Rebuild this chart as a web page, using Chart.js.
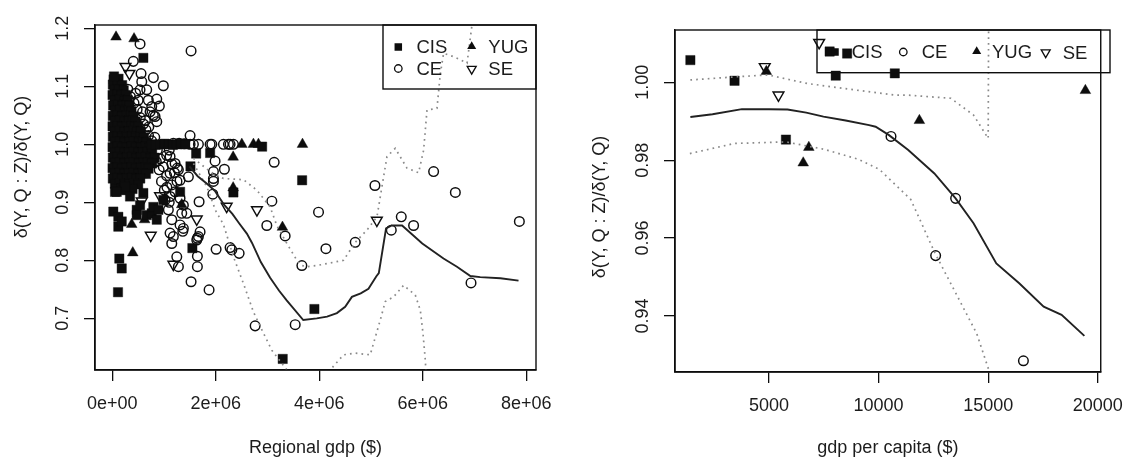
<!DOCTYPE html>
<html><head><meta charset="utf-8">
<script src="https://cdn.jsdelivr.net/npm/chart.js@4.4.1/dist/chart.umd.min.js"></script>
<style>
html,body{margin:0;padding:0;background:#fff;}
#wrap{position:relative;width:1135px;height:460px;overflow:hidden;background:#fff;}
canvas{position:absolute;top:0;}
</style></head><body>
<div id="wrap">
<canvas id="cL" width="567" height="460" style="left:0px"></canvas>
<canvas id="cR" width="568" height="460" style="left:567px"></canvas>
</div>
<script>
// ---------- tick labels ----------
const leftXTicks = [0, 2e6, 4e6, 6e6, 8e6];
const leftXLabels = ['0e+00', '2e+06', '4e+06', '6e+06', '8e+06'];
const leftYTicks = [0.7, 0.8, 0.9, 1.0, 1.1, 1.2];
const leftYLabels = ['0.7', '0.8', '0.9', '1.0', '1.1', '1.2'];
const rightXTicks = [5000, 10000, 15000, 20000];
const rightXLabels = ['5000', '10000', '15000', '20000'];
const rightYTicks = [0.94, 0.96, 0.98, 1.00];
const rightYLabels = ['0.94', '0.96', '0.98', '1.00'];
const seriesNames = ['CIS', 'CE', 'YUG', 'SE'];

// ---------- left panel: regional gdp ----------
const leftCIS = [
[25e3,1.112],[120e3,1.113],
[10e3,1.103],[100e3,1.104],[190e3,1.102],
[40e3,1.094],[130e3,1.095],[220e3,1.093],
[5e3,1.085],[95e3,1.086],[180e3,1.084],[260e3,1.085],
[45e3,1.076],[140e3,1.077],[230e3,1.075],[300e3,1.076],
[15e3,1.067],[105e3,1.068],[195e3,1.066],[280e3,1.067],[330e3,1.066],
[55e3,1.058],[150e3,1.059],[240e3,1.057],[320e3,1.058],[370e3,1.057],
[10e3,1.049],[100e3,1.050],[190e3,1.048],[280e3,1.049],[360e3,1.050],[410e3,1.048],
[50e3,1.040],[145e3,1.041],[235e3,1.039],[325e3,1.040],[400e3,1.041],[450e3,1.039],
[5e3,1.031],[95e3,1.032],[190e3,1.030],[280e3,1.031],[370e3,1.032],[440e3,1.030],[500e3,1.031],
[45e3,1.022],[140e3,1.023],[230e3,1.021],[320e3,1.022],[410e3,1.023],[480e3,1.021],[550e3,1.022],
[10e3,1.013],[100e3,1.014],[190e3,1.012],[285e3,1.013],[375e3,1.014],[460e3,1.012],[540e3,1.013],[610e3,1.012],
[50e3,1.004],[145e3,1.005],[235e3,1.003],[330e3,1.004],[420e3,1.005],[510e3,1.003],[590e3,1.004],[660e3,1.003],
[5e3,0.995],[95e3,0.996],[190e3,0.994],[280e3,0.995],[370e3,0.996],[460e3,0.994],[550e3,0.995],[640e3,0.996],[720e3,0.994],
[45e3,0.986],[140e3,0.987],[230e3,0.985],[320e3,0.986],[410e3,0.987],[500e3,0.985],[590e3,0.986],[680e3,0.987],[770e3,0.985],
[10e3,0.977],[100e3,0.978],[190e3,0.976],[285e3,0.977],[375e3,0.978],[465e3,0.976],[555e3,0.977],[645e3,0.978],[735e3,0.976],[820e3,0.977],
[50e3,0.968],[145e3,0.969],[235e3,0.967],[330e3,0.968],[420e3,0.969],[510e3,0.967],[600e3,0.968],[690e3,0.969],[770e3,0.967],
[5e3,0.959],[95e3,0.960],[190e3,0.958],[280e3,0.959],[370e3,0.960],[460e3,0.958],[550e3,0.959],[640e3,0.960],[700e3,0.958],
[45e3,0.950],[140e3,0.951],[230e3,0.949],[320e3,0.950],[410e3,0.951],[500e3,0.949],[590e3,0.950],[650e3,0.949],
[10e3,0.941],[100e3,0.942],[190e3,0.940],[285e3,0.941],[375e3,0.942],[465e3,0.940],[540e3,0.941],
[50e3,0.932],[145e3,0.933],[235e3,0.931],[330e3,0.932],[420e3,0.933],[500e3,0.931],
[70e3,0.923],[180e3,0.924],[280e3,0.922],[390e3,0.923],
[33e3,1.117],[600e3,1.149],[19e3,0.884],[116e3,0.875],[116e3,0.858],[182e3,0.867],[135e3,0.803],
[182e3,0.786],[110e3,0.745],[52e3,0.918],[213e3,0.921],[246e3,0.927],[85e3,0.918],[342e3,0.910],
[472e3,0.887],[472e3,0.878],[536e3,0.895],[600e3,0.916],[665e3,0.878],[762e3,0.881],[793e3,0.892],
[859e3,0.870],[890e3,0.887],[986e3,0.904],[1310e3,0.918],[1510e3,0.962],[1620e3,0.984],[1890e3,0.985],
[2340e3,0.917],[2895e3,0.996],[3668e3,0.938],[3905e3,0.716],[3293e3,0.630],[1547e3,0.821],
[760e3,1.0],[840e3,0.999],[925e3,1.0],[1010e3,1.001],[1090e3,1.0],[1170e3,0.999],[1250e3,1.0],[1330e3,1.001],[1410e3,1.0]
];
const leftCE = [
[536e3,1.173],[1522e3,1.161],[406e3,1.143],[555e3,1.122],[793e3,1.115],[986e3,1.101],[569e3,1.108],
[536e3,1.094],[665e3,1.094],[859e3,1.078],[909e3,1.066],[826e3,1.048],[859e3,1.039],[696e3,1.076],
[762e3,1.065],[729e3,1.056],[793e3,1.050],[1503e3,1.015],
[300e3,1.095],[350e3,1.082],[420e3,1.071],[480e3,1.060],[540e3,1.046],[600e3,1.035],[650e3,1.025],
[700e3,1.015],[760e3,1.006],[450e3,1.088],[500e3,1.076],[585e3,1.056],[640e3,1.041],[705e3,1.030],
[820e3,1.012],[870e3,0.990],[925e3,0.975],[985e3,0.961],[1050e3,0.946],[950e3,0.936],[1005e3,0.921],
[905e3,0.956],[850e3,0.970],[1050e3,0.981],[1100e3,0.990],[1150e3,0.966],[1200e3,0.951],[1250e3,0.936],
[1055e3,0.926],[1100e3,0.900],
[1180e3,1.002],[1290e3,1.002],[1390e3,1.001],[1503e3,1.0],[1567e3,1.0],[1664e3,1.0],[1890e3,1.0],
[1923e3,1.0],[2147e3,1.0],[2244e3,1.0],[2276e3,1.0],[2341e3,1.0],
[1116e3,0.979],[1213e3,0.967],[1257e3,0.959],[1116e3,0.950],[1309e3,0.938],[1149e3,0.930],[1213e3,0.918],
[1116e3,0.910],[1309e3,0.907],[1373e3,0.895],[1083e3,0.887],[1342e3,0.881],[1439e3,0.881],[1149e3,0.870],
[1309e3,0.861],[1373e3,0.855],[1362e3,0.850],[1116e3,0.847],[1180e3,0.841],[1149e3,0.829],[1246e3,0.806],
[1277e3,0.789],[1277e3,0.956],[1470e3,0.944],[1019e3,0.904],[1632e3,0.835],
[1986e3,0.971],[3128e3,0.969],[2166e3,0.957],[1954e3,0.953],[1954e3,0.941],[1954e3,0.936],[1942e3,0.914],
[1677e3,0.901],[3083e3,0.902],[3985e3,0.883],[2986e3,0.860],[3340e3,0.842],[4128e3,0.820],[3663e3,0.791],
[1696e3,0.849],[1664e3,0.841],[1644e3,0.838],[2006e3,0.819],[2276e3,0.822],[2309e3,0.818],[2451e3,0.812],
[1644e3,0.807],[1644e3,0.789],[1522e3,0.763],[1870e3,0.749],[2760e3,0.687],[3534e3,0.689],[6209e3,0.953],
[6629e3,0.917],[7866e3,0.867],[5075e3,0.929],[5584e3,0.875],[5822e3,0.860],[5391e3,0.852],[6932e3,0.761],
[4694e3,0.831]
];
const leftYUG = [
[72e3,1.185],[420e3,1.182],[395e3,0.813],[375e3,0.862],[625e3,0.870],[1342e3,0.896],[2335e3,0.925],
[2335e3,0.978],[2503e3,1.0],[2727e3,1.0],[2824e3,1.0],[3675e3,1.0],[3288e3,0.857]
];
const leftSE = [
[255e3,1.134],[330e3,1.122],[743e3,0.843],[569e3,0.902],[922e3,0.911],[1632e3,0.871],[1180e3,0.793],
[2210e3,0.893],[2795e3,0.887],[5112e3,0.869]
];
const leftFit = [
[1490e3,0.962],[1650e3,0.945],[1830e3,0.932],[1980e3,0.920],[2150e3,0.897],[2320e3,0.880],[2450e3,0.864],
[2600e3,0.846],[2700e3,0.830],[2870e3,0.797],[3050e3,0.770],[3220e3,0.748],[3370e3,0.731],[3690e3,0.697],
[3950e3,0.700],[4150e3,0.703],[4340e3,0.709],[4500e3,0.720],[4630e3,0.737],[4800e3,0.743],[4950e3,0.751],
[5100e3,0.772],[5150e3,0.778],[5290e3,0.855],[5400e3,0.860],[5600e3,0.860],[5990e3,0.829],[6400e3,0.803],
[6660e3,0.789],[6920e3,0.773],[7110e3,0.771],[7500e3,0.769],[7850e3,0.765]
];
const leftUpper = [
[1567e3,0.976],[1890e3,0.953],[2147e3,0.941],[2534e3,0.939],[2793e3,0.921],[3050e3,0.892],[3179e3,0.860],
[3373e3,0.829],[3567e3,0.800],[3663e3,0.791],[3760e3,0.789],[3953e3,0.791],[4468e3,0.800],[4694e3,0.831],
[4920e3,0.852],[5114e3,0.875],[5211e3,0.927],[5308e3,0.979],[5468e3,0.993],[5694e3,0.959],[5919e3,0.951],
[6016e3,0.990],[6081e3,1.059],[6274e3,1.062],[6339e3,1.122],[6402e3,1.157],[6596e3,1.151],[6855e3,1.140],
[6951e3,1.206],[7050e3,1.300]
];
const leftLower = [
[1567e3,0.967],[1826e3,0.927],[2000e3,0.885],[2147e3,0.862],[2341e3,0.806],[2534e3,0.760],[2727e3,0.711],
[2890e3,0.680],[3083e3,0.645],[3373e3,0.611],[3450e3,0.595],[3800e3,null],[4150e3,0.598],[4210e3,0.611],
[4468e3,0.637],[4694e3,0.640],[4984e3,0.637],[5178e3,0.697],[5275e3,0.729],[5436e3,0.737],[5629e3,0.757],
[5855e3,0.740],[5952e3,0.714],[6004e3,0.674],[6048e3,0.628],[6070e3,0.595]
];

// ---------- right panel: gdp per capita ----------
const rightCIS = [[1415,1.0057],[3430,1.0004],[7768,1.0079],[8565,1.0074],[8045,1.0017],[10740,1.0023],[5774,0.9853]];
const rightCE = [[10567,0.9861],[13514,0.9702],[12603,0.9555],[16607,0.9285]];
const rightYUG = [[11862,0.9902],[19433,0.9979],[6818,0.9833],[6563,0.9793],[4880,1.0028]];
const rightSE = [[4808,1.0040],[5434,0.9967],[7290,1.0102]];
const rightFit = [
[1415,0.9911],[2425,0.9918],[3765,0.9931],[5000,0.9931],[5848,0.9930],[6700,0.9922],[7487,0.9912],
[8500,0.9902],[9567,0.9890],[9866,0.9886],[10460,0.9865],[11353,0.9826],[12545,0.9766],[13514,0.9702],
[14331,0.9638],[15371,0.9535],[16415,0.9484],[17531,0.9424],[18348,0.9403],[19388,0.9349]
];
const rightUpper = [
[1415,1.0006],[3465,1.0014],[4955,1.0019],[6741,0.9997],[8974,0.9980],[10759,0.9967],[11353,0.9967],
[13291,0.9959],[14331,0.9916],[15000,0.9856],[15030,1.0300]
];
const rightLower = [
[1393,0.9817],[3418,0.9843],[5775,0.9847],[7515,0.9828],[9097,0.9802],[10046,0.9776],[11470,0.9699],
[12577,0.9561],[13527,0.9458],[14476,0.9355],[15030,0.9261],[15150,0.9150]
];

// ---------- styling ----------
const FONT = "'Liberation Sans', Arial, Helvetica, sans-serif";
const INK = '#0d0d0d';
const TXT = '#1c1c1c';
const toXY = a => a.map(p => ({x: p[0], y: p[1]}));

const markerStyle = {
  CIS: {pointStyle: 'rect', radius: 6.6, rotation: 0, fill: true},
  CE: {pointStyle: 'circle', radius: 4.8, rotation: 0, fill: false},
  YUG: {pointStyle: 'triangle', radius: 6.2, rotation: 0, fill: true},
  SE: {pointStyle: 'triangle', radius: 6.2, rotation: 180, fill: false}
};

function pointSet(name, data) {
  const m = markerStyle[name];
  return {
    label: name, data: toXY(data), showLine: false,
    pointStyle: m.pointStyle, pointRadius: m.radius, pointRotation: m.rotation,
    pointBackgroundColor: m.fill ? INK : 'rgba(0,0,0,0)',
    pointBorderColor: INK, pointBorderWidth: m.fill ? 0.4 : 1.45,
    order: 5
  };
}
function lineSet(label, data, dotted) {
  return {
    label, data: toXY(data), showLine: true, pointRadius: 0, fill: false, tension: 0,
    borderColor: dotted ? '#8a8a8a' : '#222222', borderWidth: dotted ? 1.7 : 1.9,
    borderDash: dotted ? [1.7, 4.1] : [], borderCapStyle: 'butt', spanGaps: false,
    order: 1
  };
}

function drawMarker(ctx, name, x, y, s) {
  ctx.save();
  ctx.strokeStyle = INK; ctx.fillStyle = INK; ctx.lineWidth = 1.3;
  ctx.beginPath();
  if (name === 'CIS') { ctx.fillRect(x - s / 2, y - s / 2, s, s); }
  else if (name === 'CE') { ctx.arc(x, y, s / 2, 0, Math.PI * 2); ctx.stroke(); }
  else if (name === 'YUG') {
    const r = s / Math.sqrt(3);
    ctx.moveTo(x, y - r); ctx.lineTo(x + s / 2, y + r / 2); ctx.lineTo(x - s / 2, y + r / 2); ctx.closePath(); ctx.fill();
  } else if (name === 'SE') {
    const r = s / Math.sqrt(3);
    ctx.moveTo(x, y + r); ctx.lineTo(x + s / 2, y - r / 2); ctx.lineTo(x - s / 2, y - r / 2); ctx.closePath(); ctx.stroke();
  }
  ctx.restore();
}

function decorPlugin(cfg) {
  return {
    id: 'decor',
    afterDraw(chart) {
      const ctx = chart.ctx, a = chart.chartArea;
      ctx.save();
      ctx.strokeStyle = INK; ctx.lineWidth = 1.4;
      ctx.strokeRect(a.left, a.top, a.right - a.left, a.bottom - a.top);
      ctx.fillStyle = TXT; ctx.font = '18px ' + FONT;
      ctx.translate(cfg.ytitle.x, cfg.ytitle.y); ctx.rotate(-Math.PI / 2);
      ctx.textAlign = 'center'; ctx.textBaseline = 'middle';
      ctx.fillText(cfg.ytitle.text, 0, 0);
      ctx.restore();
      ctx.save();
      const b = cfg.legend.box;
      ctx.strokeStyle = INK; ctx.lineWidth = 1.4;
      ctx.strokeRect(b[0], b[1], b[2] - b[0], b[3] - b[1]);
      ctx.font = '18.5px ' + FONT; ctx.textAlign = 'left'; ctx.textBaseline = 'middle';
      cfg.legend.items.forEach(it => {
        drawMarker(ctx, it.name, it.mx, it.my, it.size);
        ctx.fillStyle = TXT;
        ctx.fillText(it.name, it.tx, it.my + 1);
      });
      ctx.restore();
    }
  };
}

function makeChart(id, o) {
  const tickFont = {family: FONT, size: 18};
  return new Chart(document.getElementById(id), {
    type: 'scatter',
    data: {datasets: [
      lineSet('fit', o.fit, false), lineSet('upper', o.upper, true), lineSet('lower', o.lower, true),
      pointSet('CIS', o.CIS), pointSet('CE', o.CE), pointSet('YUG', o.YUG), pointSet('SE', o.SE)
    ]},
    options: {
      responsive: false, animation: false, devicePixelRatio: 1, events: [],
      layout: {padding: o.padding},
      plugins: {legend: {display: false}, tooltip: {enabled: false}, title: {display: false}},
      scales: {
        x: {
          type: 'linear', position: 'bottom', min: o.xmin, max: o.xmax,
          afterBuildTicks: s => { s.ticks = o.xTicks.map(v => ({value: v})); },
          afterFit: s => { s.height = o.xHeight; },
          ticks: {autoSkip: false, maxRotation: 0, minRotation: 0, padding: 12, font: tickFont, color: TXT,
                  callback: (v, i) => o.xLabels[i]},
          grid: {display: true, drawOnChartArea: false, drawTicks: true, tickLength: 11, color: INK, lineWidth: 1.3},
          border: {display: true, color: INK, width: 1.4},
          title: {display: true, text: o.xTitle, font: {family: FONT, size: 18}, color: TXT, padding: {top: 0, bottom: 1}}
        },
        y: {
          type: 'linear', position: 'left', min: o.ymin, max: o.ymax,
          afterBuildTicks: s => { s.ticks = o.yTicks.map(v => ({value: v})); },
          afterFit: s => { s.width = o.yWidth; },
          ticks: {autoSkip: false, minRotation: 90, maxRotation: 90, crossAlign: 'center', padding: o.yPad,
                  font: tickFont, color: TXT, callback: (v, i) => o.yLabels[i]},
          grid: {display: true, drawOnChartArea: false, drawTicks: true, tickLength: 11, color: INK, lineWidth: 1.3},
          border: {display: true, color: INK, width: 1.4},
          title: {display: false}
        }
      }
    },
    plugins: [decorPlugin(o.decor)]
  });
}

makeChart('cL', {
  fit: leftFit, upper: leftUpper, lower: leftLower,
  CIS: leftCIS, CE: leftCE, YUG: leftYUG, SE: leftSE,
  xmin: -334.6e3, xmax: 8.1876e6, ymin: 0.6109, ymax: 1.2057,
  xTicks: leftXTicks, xLabels: leftXLabels, yTicks: leftYTicks, yLabels: leftYLabels,
  padding: {left: 0, top: 25, right: 31, bottom: 0}, xHeight: 90, yWidth: 95, yPad: 8.5,
  xTitle: 'Regional gdp ($)',
  decor: {
    ytitle: {text: 'δ(Y, Q : Z)/δ(Y, Q)', x: 22, y: 167},
    legend: {box: [383, 25, 536, 89], items: [
      {name: 'CIS', mx: 398.3, my: 47, tx: 416.5, size: 7.5},
      {name: 'YUG', mx: 471.7, my: 46.5, tx: 488.3, size: 9},
      {name: 'CE', mx: 398.3, my: 68.5, tx: 416.5, size: 7.5},
      {name: 'SE', mx: 471.7, my: 69, tx: 488.3, size: 9}
    ]}
  }
});

makeChart('cR', {
  fit: rightFit, upper: rightUpper, lower: rightLower,
  CIS: rightCIS, CE: rightCE, YUG: rightYUG, SE: rightSE,
  xmin: 714, xmax: 20134, ymin: 0.92562, ymax: 1.01343,
  xTicks: rightXTicks, xLabels: rightXLabels, yTicks: rightYTicks, yLabels: rightYLabels,
  padding: {left: 0, top: 30, right: 25, bottom: 0}, xHeight: 88, yWidth: 108, yPad: 3.5,
  xTitle: 'gdp per capita ($)',
  decor: {
    ytitle: {text: 'δ(Y, Q : Z)/δ(Y, Q)', x: 33, y: 207},
    legend: {box: [250, 30, 543, 72.7], items: [
      {name: 'CIS', mx: 268, my: 52, tx: 284.7, size: 7.5},
      {name: 'CE', mx: 336.3, my: 52, tx: 354.7, size: 7.5},
      {name: 'YUG', mx: 409.7, my: 51.5, tx: 425, size: 9},
      {name: 'SE', mx: 478.7, my: 52.5, tx: 495.7, size: 9}
    ]}
  }
});
</script>
</body></html>
